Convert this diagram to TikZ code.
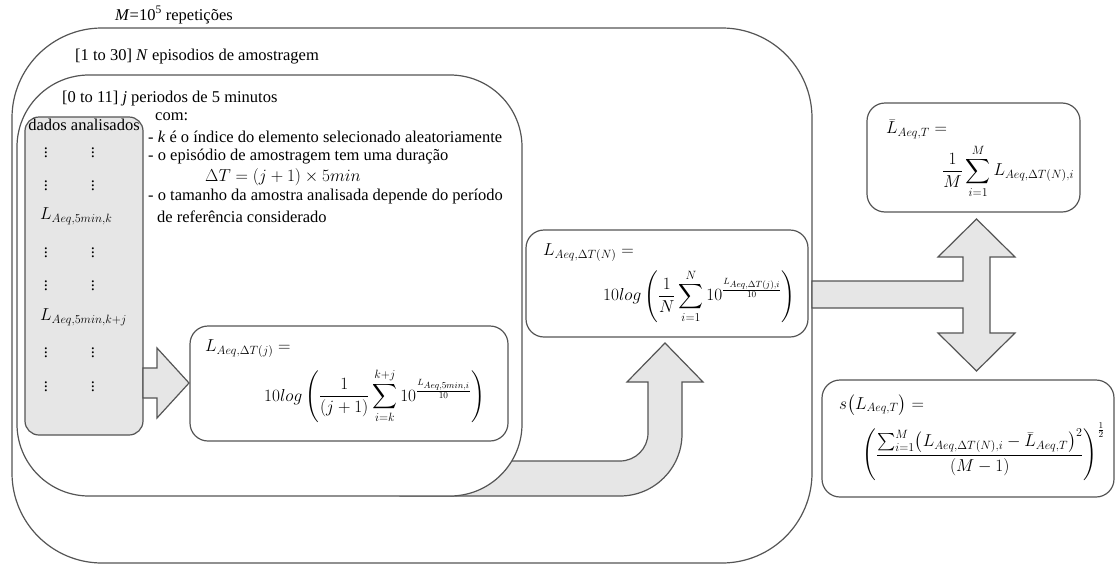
\documentclass[tikz,border=0pt]{standalone}
\usepackage{fontspec}
\setmainfont{Liberation Serif}
\usepackage{amsmath}
\definecolor{ln}{HTML}{555555}
\definecolor{gf}{HTML}{E6E6E6}
\begin{document}
\begin{tikzpicture}[x=1pt,y=-1pt,
  box/.style={draw=ln, line width=1.2pt, fill=white},
  blk/.style={draw=ln, line width=1.2pt, fill=gf, line join=miter},
  txt/.style={inner sep=0pt, anchor=west, font=\fontsize{16.5}{20}\selectfont},
  mth/.style={inner sep=0pt, anchor=west, font=\fontsize{18}{22}\selectfont},
  dt/.style={inner sep=0pt, font=\fontsize{16.5}{20}\selectfont}]
\useasboundingbox (0,0) rectangle (1118,565);

% outer box (M repetitions)
\draw[box, rounded corners=90pt] (12,28) rectangle (812,563);

% U-shaped block arrow (behind inner box)
\draw[blk] (400,461) -- (620,461) arc[start angle=90, end angle=0, radius=28]
  -- (648,382) -- (627,382) -- (665,343) -- (703,382) -- (682,382) -- (682,434)
  arc[start angle=0, end angle=90, radius=62] -- (400,496) -- cycle;

% inner box (N episodes)
\draw[box, rounded corners=72pt] (17,75) rectangle (522,496);

% T-shaped double block arrow
\draw[blk] (812,281) -- (963,281) -- (963,257) -- (938,257) -- (976.5,219) -- (1015,257)
  -- (990,257) -- (990,333) -- (1015,333) -- (976.5,371) -- (938,333) -- (963,333)
  -- (963,308) -- (812,308) -- cycle;

% labels of the repetition boxes
\node[txt] (mlab) at (115,15) {\textit{M}=10\textsuperscript{5} repetições};
\node[txt] (nlab) at (75,57) {[1 to 30] \textit{N} episodios de amostragem};
\node[txt] (jlab) at (62,99) {[0 to 11] \textit{j} periodos de 5 minutos};

% analysed data column
\node[draw=ln, line width=1.2pt, fill=gf, rounded corners=14pt,
  minimum width=118pt, minimum height=318pt, inner sep=0pt] (data) at (84,276) {};
\node[dt] (dlab) at (84,125) {dados analisados};
\foreach \yy/\nm in {150/a,183/b,250/c,283/d,350/e,384/f}{
  \node[dt] (dl\nm) at (46,\yy) {$\vdots$};
  \node[dt] (dr\nm) at (93,\yy) {$\vdots$};
}
\node[txt] (lk) at (40,216) {$L_{Aeq,5min,k}$};
\node[txt] (lkj) at (40,317) {$L_{Aeq,5min,k+j}$};

% explanatory text
\node[txt] (com) at (155,117) {com:};
\node[txt] (b1) at (148,137) {- \textit{k} é o índice do elemento selecionado aleatoriamente};
\node[txt] (b2) at (148,157) {- o episódio de amostragem tem uma duração};
\node[txt] (b3) at (205,177) {$\Delta T=(j+1)\times 5min$};
\node[txt] (b4) at (148,197) {- o tamanho da amostra analisada depende do período};
\node[txt] (b5) at (157,217) {de referência considerado};

% arrow data -> f1
\draw[blk] (143,368) -- (157,368) -- (157,348) -- (189,383) -- (157,418) -- (157,398) -- (143,398) -- cycle;

% formula box 1
\node[box, rounded corners=18pt, minimum width=318pt, minimum height=115pt, inner sep=0pt] (f1) at (349,383.5) {};
\node[mth] (f1a) at (205,349) {$L_{Aeq,\Delta T(j)}=$};
\node[mth] (f1b) at (264,396) {$\displaystyle 10log\left(\frac{1}{(j+1)}\sum_{i=k}^{k+j}10^{\frac{L_{Aeq,5min,i}}{10}}\right)$};

% formula box 2
\node[box, rounded corners=18pt, minimum width=282pt, minimum height=107pt, inner sep=0pt] (f2) at (667,283.5) {};
\node[mth] (f2a) at (543,253) {$L_{Aeq,\Delta T(N)}=$};
\node[mth] (f2b) at (603,296) {$\displaystyle 10log\left(\frac{1}{N}\sum_{i=1}^{N}10^{\frac{L_{Aeq,\Delta T(j),i}}{10}}\right)$};

% formula box 3
\node[box, rounded corners=18pt, minimum width=213pt, minimum height=109pt, inner sep=0pt] (f3) at (973.5,157.5) {};
\node[mth] (f3a) at (886,129) {$\bar{L}_{Aeq,T}=$};
\node[mth] (f3b) at (942,171) {$\displaystyle \frac{1}{M}\sum_{i=1}^{M}L_{Aeq,\Delta T(N),i}$};

% formula box 4
\node[box, rounded corners=18pt, minimum width=292pt, minimum height=117pt, inner sep=0pt] (f4) at (968,438.5) {};
\node[mth] (f4a) at (839,405) {$s\bigl(L_{Aeq,T}\bigr)=$};
\node[mth] (f4b) at (862,452) {$\displaystyle \left(\frac{\sum_{i=1}^{M}\bigl(L_{Aeq,\Delta T(N),i}-\bar{L}_{Aeq,T}\bigr)^{2}}{(M-1)}\right)^{\frac{1}{2}}$};
\end{tikzpicture}
\end{document}
